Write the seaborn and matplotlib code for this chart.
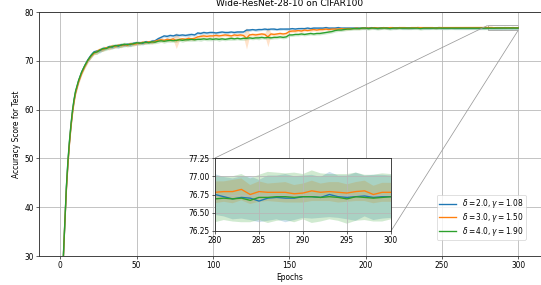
import numpy as np
import pandas as pd
import seaborn as sns
import matplotlib
matplotlib.use("Agg")
import matplotlib.pyplot as plt
from mpl_toolkits.axes_grid1.inset_locator import mark_inset

epochs = list(range(1, 11)) + list(range(12, 280, 2)) + list(range(280, 301))

labels = [r"$\delta = 2.0, \gamma = 1.08$",
          r"$\delta = 3.0, \gamma = 1.50$",
          r"$\delta = 4.0, \gamma = 1.90$"]

# mean test accuracy, delta = 2.0
acc_blue = [
    22.5, 29.8, 37.6, 44.0, 49.2, 53.3, 56.8, 59.6, 61.9, 63.6,
    65.9, 67.7, 69.0, 70.2, 71.1, 71.8, 72.0, 72.1, 72.5, 72.6, 72.9, 72.8, 73.1, 73.0, 73.3, 73.2, 73.4, 73.3, 73.6, 73.6,
    73.7, 73.6, 73.9, 73.8, 74.0, 74.1, 74.5, 74.8, 75.1, 75.0, 75.2, 75.1, 75.3, 75.2, 75.3, 75.2, 75.3, 75.4, 75.3, 75.7,
    75.6, 75.8, 75.7, 75.8,
    75.8, 75.7, 75.8, 75.9, 75.8, 75.8, 75.9, 75.8, 75.9, 75.9, 75.9, 76.3, 76.3, 76.4, 76.3, 76.4, 76.4, 76.5, 76.4, 76.5,
    76.5, 76.4, 76.5, 76.5, 76.5,
    76.5, 76.6, 76.5, 76.6, 76.6, 76.6, 76.7, 76.6, 76.7, 76.7, 76.7, 76.7, 76.8, 76.7, 76.7, 76.7, 76.8, 76.7, 76.7, 76.7,
    76.7, 76.7, 76.7, 76.7, 76.7,
    76.7, 76.7, 76.8, 76.7, 76.7, 76.7, 76.8, 76.7, 76.7, 76.7, 76.7, 76.8, 76.7, 76.7, 76.7, 76.7, 76.7, 76.8, 76.7, 76.7,
    76.7, 76.7, 76.7, 76.7, 76.8, 76.7, 76.7, 76.7, 76.7, 76.7, 76.7, 76.7, 76.7, 76.7, 76.7, 76.7, 76.7, 76.7, 76.7, 76.7,
    76.75, 76.72, 76.69, 76.71, 76.70, 76.66, 76.70, 76.71, 76.70, 76.70, 76.72, 76.72, 76.71, 76.75, 76.72, 76.71, 76.72,
    76.73, 76.71, 76.72, 76.72]

# mean test accuracy, delta = 3.0
acc_orange = [
    22.0, 29.4, 37.0, 43.6, 48.8, 53.0, 56.5, 59.3, 61.6, 63.4,
    65.7, 67.4, 68.8, 70.0, 70.9, 71.5, 71.9, 72.3, 72.3, 72.7, 72.7, 73.0, 72.9, 73.2, 73.1, 73.3, 73.2, 73.5, 73.4, 73.5,
    73.6, 73.8, 73.7, 73.9, 73.8, 74.0, 74.2, 74.3, 74.2, 74.4, 74.3, 74.5, 74.1, 74.4, 74.5, 74.4, 74.6, 74.5, 74.6, 74.9,
    75.0, 75.1, 75.0, 75.1,
    75.1, 75.2, 75.1, 75.2, 75.3, 75.2, 75.1, 75.3, 75.2, 75.3, 75.2, 74.6, 75.3, 75.4, 75.3, 75.4, 75.5, 75.4, 74.9, 75.5,
    75.4, 75.5, 75.6, 75.5, 75.6,
    76.0, 76.1, 76.1, 76.2, 76.1, 76.3, 76.2, 76.3, 76.4, 76.3, 76.4, 76.4, 76.5, 76.4, 76.5, 76.5, 76.5, 76.6, 76.5, 76.6,
    76.6, 76.6, 76.7, 76.6, 76.7,
    76.7, 76.7, 76.7, 76.8, 76.7, 76.7, 76.8, 76.7, 76.8, 76.8, 76.7, 76.8, 76.8, 76.8, 76.7, 76.8, 76.8, 76.8, 76.8, 76.8,
    76.8, 76.8, 76.8, 76.7, 76.8, 76.8, 76.8, 76.8, 76.8, 76.8, 76.8, 76.8, 76.8, 76.8, 76.8, 76.8, 76.8, 76.8, 76.8, 76.8,
    76.78, 76.79, 76.79, 76.82, 76.75, 76.79, 76.78, 76.78, 76.78, 76.76, 76.77, 76.80, 76.78, 76.79, 76.78, 76.77, 76.79,
    76.80, 76.75, 76.78, 76.78]

# mean test accuracy, delta = 4.0
acc_green = [
    22.8, 30.1, 37.9, 44.3, 49.5, 53.6, 57.0, 59.9, 62.1, 63.8,
    66.0, 67.7, 69.0, 70.1, 71.0, 71.7, 71.8, 72.2, 72.5, 72.5, 72.8, 72.9, 73.1, 73.1, 73.2, 73.4, 73.3, 73.4, 73.5, 73.7,
    73.6, 73.7, 73.8, 73.7, 73.9, 73.8, 74.0, 74.1, 74.0, 74.1, 74.2, 74.1, 74.2, 74.3, 74.2, 74.3, 74.3, 74.4, 74.3, 74.4,
    74.4, 74.5, 74.4, 74.5,
    74.4, 74.5, 74.4, 74.5, 74.4, 74.5, 74.6, 74.5, 74.6, 74.5, 74.6, 74.6, 74.7, 74.6, 74.7, 74.7, 74.8, 74.7, 74.8, 74.7,
    74.8, 74.8, 74.9, 74.8, 74.9,
    75.3, 75.3, 75.4, 75.4, 75.5, 75.4, 75.5, 75.6, 75.5, 75.6, 75.6, 75.7, 75.8, 75.9, 76.0, 76.2, 76.3, 76.3, 76.4, 76.5,
    76.5, 76.6, 76.6, 76.6, 76.7,
    76.7, 76.6, 76.7, 76.7, 76.6, 76.7, 76.7, 76.7, 76.6, 76.7, 76.7, 76.7, 76.7, 76.7, 76.7, 76.7, 76.7, 76.7, 76.6, 76.7,
    76.7, 76.7, 76.7, 76.7, 76.7, 76.7, 76.7, 76.7, 76.7, 76.7, 76.7, 76.7, 76.7, 76.7, 76.7, 76.7, 76.7, 76.7, 76.7, 76.7,
    76.69, 76.70, 76.69, 76.70, 76.67, 76.71, 76.71, 76.72, 76.72, 76.71, 76.72, 76.72, 76.71, 76.72, 76.71, 76.69, 76.72,
    76.71, 76.70, 76.71, 76.72]

# standard deviation over runs
sd_blue = [
    1.2, 1.0, 0.9, 0.8, 0.7, 0.6, 0.6, 0.5, 0.5, 0.5,
    0.4, 0.5, 0.3, 0.4, 0.5, 0.4, 0.3, 0.5, 0.4, 0.3, 0.4, 0.3, 0.4, 0.5, 0.3, 0.4, 0.3, 0.4, 0.3, 0.4,
    0.3, 0.4, 0.3, 0.3, 0.4, 0.3, 0.4, 0.3, 0.3, 0.4, 0.3, 0.3, 0.4, 0.3, 0.3, 0.3, 0.4, 0.3, 0.3, 0.3,
    0.4, 0.3, 0.3, 0.3,
    0.3, 0.3, 0.3, 0.2, 0.3, 0.3, 0.2, 0.3, 0.3, 0.3, 0.2, 0.3, 0.3, 0.2, 0.3, 0.3, 0.2, 0.3, 0.3, 0.2,
    0.3, 0.2, 0.3, 0.2, 0.3,
    0.3, 0.2, 0.3, 0.2, 0.3, 0.2, 0.3, 0.2, 0.3, 0.2, 0.3, 0.2, 0.3, 0.2, 0.3, 0.2, 0.3, 0.2, 0.3, 0.2,
    0.3, 0.2, 0.3, 0.2, 0.3,
    0.3, 0.3, 0.2, 0.3, 0.3, 0.3, 0.2, 0.3, 0.3, 0.3, 0.3, 0.2, 0.3, 0.3, 0.3, 0.3, 0.2, 0.3, 0.3, 0.3,
    0.3, 0.3, 0.2, 0.3, 0.3, 0.3, 0.3, 0.3, 0.2, 0.3, 0.3, 0.3, 0.3, 0.3, 0.3, 0.3, 0.3, 0.3, 0.3, 0.3,
    0.28, 0.27, 0.28, 0.29, 0.30, 0.29, 0.31, 0.30, 0.33, 0.30, 0.29, 0.30, 0.28, 0.31, 0.29, 0.30, 0.33,
    0.28, 0.31, 0.30, 0.29]

sd_orange = [
    1.3, 1.1, 1.0, 0.8, 0.7, 0.6, 0.6, 0.5, 0.5, 0.5,
    0.5, 0.4, 0.4, 0.5, 0.4, 0.3, 0.5, 0.4, 0.4, 0.3, 0.5, 0.4, 0.3, 0.4, 0.4, 0.3, 0.4, 0.3, 0.4, 0.3,
    0.3, 0.4, 0.3, 0.3, 0.4, 0.3, 0.3, 0.4, 0.3, 0.3, 0.4, 0.3, 1.6, 0.3, 0.3, 0.4, 0.3, 0.3, 0.4, 0.3,
    0.3, 0.4, 0.3, 0.3,
    0.3, 0.4, 0.3, 0.3, 0.3, 0.4, 0.3, 0.3, 0.4, 0.3, 0.3, 2.2, 0.3, 0.3, 0.4, 0.3, 0.3, 0.3, 2.0, 0.3,
    0.3, 0.3, 0.3, 0.3, 0.3,
    0.3, 0.3, 0.3, 0.2, 0.3, 0.3, 0.2, 0.3, 0.3, 0.2, 0.3, 0.3, 0.2, 0.3, 0.2, 0.3, 0.2, 0.3, 0.2, 0.3,
    0.2, 0.2, 0.3, 0.2, 0.2,
    0.2, 0.2, 0.2, 0.2, 0.2, 0.2, 0.2, 0.2, 0.2, 0.2, 0.2, 0.2, 0.2, 0.2, 0.2, 0.2, 0.2, 0.2, 0.2, 0.2,
    0.2, 0.2, 0.2, 0.2, 0.2, 0.2, 0.2, 0.2, 0.2, 0.2, 0.2, 0.2, 0.2, 0.2, 0.2, 0.2, 0.2, 0.2, 0.2, 0.2,
    0.15, 0.14, 0.16, 0.15, 0.13, 0.14, 0.12, 0.13, 0.14, 0.12, 0.13, 0.14, 0.12, 0.13, 0.14, 0.12, 0.13,
    0.14, 0.12, 0.13, 0.13]

sd_green = [
    1.1, 1.0, 0.9, 0.8, 0.7, 0.6, 0.6, 0.5, 0.5, 0.5,
    0.5, 0.4, 0.5, 0.4, 0.5, 0.4, 0.5, 0.4, 0.5, 0.4, 0.4, 0.5, 0.4, 0.4, 0.5, 0.4, 0.4, 0.5, 0.4, 0.4,
    0.4, 0.3, 0.4, 0.3, 0.4, 0.3, 0.4, 0.3, 0.4, 0.3, 0.4, 0.3, 0.4, 0.3, 0.4, 0.3, 0.3, 0.4, 0.3, 0.3,
    0.4, 0.3, 0.3, 0.4,
    0.3, 0.3, 0.4, 0.3, 0.3, 0.3, 0.4, 0.3, 0.3, 0.3, 0.4, 0.3, 0.3, 0.3, 0.3, 0.4, 0.3, 0.3, 0.3, 0.3,
    0.3, 0.3, 0.3, 0.3, 0.3,
    0.3, 0.3, 0.3, 0.3, 0.3, 0.3, 0.3, 0.3, 0.3, 0.3, 0.3, 0.3, 0.3, 0.3, 0.3, 0.3, 0.3, 0.3, 0.3, 0.3,
    0.3, 0.3, 0.3, 0.3, 0.3,
    0.3, 0.3, 0.3, 0.3, 0.3, 0.3, 0.3, 0.3, 0.3, 0.3, 0.3, 0.3, 0.3, 0.3, 0.3, 0.3, 0.3, 0.3, 0.3, 0.3,
    0.3, 0.3, 0.3, 0.3, 0.3, 0.3, 0.3, 0.3, 0.3, 0.3, 0.3, 0.3, 0.3, 0.3, 0.3, 0.3, 0.3, 0.3, 0.3, 0.3,
    0.32, 0.30, 0.31, 0.33, 0.30, 0.31, 0.35, 0.33, 0.32, 0.34, 0.31, 0.36, 0.33, 0.31, 0.32, 0.34, 0.33,
    0.31, 0.32, 0.33, 0.31]

colors = ["#1f77b4", "#ff7f0e", "#2ca02c"]
means = [acc_blue, acc_orange, acc_green]
sds = [sd_blue, sd_orange, sd_green]

# figure at 54 dpi so the default 10pt text lands at the right pixel size
fig = plt.figure(figsize=(541 / 54, 285 / 54), dpi=54)
ax = fig.add_axes([39 / 541, 29 / 285, 502 / 541, 244 / 285])
axins = fig.add_axes([215 / 541, 54 / 285, 176 / 541, 73 / 285])


def draw_runs(axis, with_label):
    # plot each setting as a mean line with a +/- sd band
    for mean, sd, col, lab in zip(means, sds, colors, labels):
        df = pd.DataFrame({"epoch": epochs, "acc": mean, "sd": sd})
        sns.lineplot(data=df, x="epoch", y="acc", color=col, linewidth=1.8,
                     label=lab if with_label else None, ax=axis, legend=with_label)
        axis.fill_between(df.epoch, df.acc - df.sd, df.acc + df.sd, color=col, alpha=0.22, linewidth=0)


def style_frame(axis):
    for sp in axis.spines.values():
        sp.set_linewidth(1.2)
        sp.set_color("#333333")
    axis.grid(True, color="#b8b8b8", linewidth=1.1)


draw_runs(ax, True)
ax.set_ylim(30, 80)
ax.set_xticks([0, 50, 100, 150, 200, 250, 300])
style_frame(ax)
ax.set_title("Wide-ResNet-28-10 on CIFAR100", pad=8)
ax.set_xlabel("Epochs")
ax.set_ylabel("Accuracy Score for Test")
ax.legend(loc="lower right", bbox_to_anchor=(0.970, 0.066), borderaxespad=0,
          labelspacing=0.1, borderpad=0.3, handlelength=2.3)

# zoomed view of the last 20 epochs
draw_runs(axins, False)
axins.set_xlim(280, 300)
axins.set_ylim(76.25, 77.25)
axins.set_xticks([280, 285, 290, 295, 300])
axins.set_yticks([76.25, 76.5, 76.75, 77.0, 77.25])
axins.set_yticklabels(["76.25", "76.50", "76.75", "77.00", "77.25"])
style_frame(axins)
axins.set_xlabel("")
axins.set_ylabel("")
mark_inset(ax, axins, loc1=2, loc2=4, fc="none", ec="0.6")

fig.savefig("out.png", dpi=54)
